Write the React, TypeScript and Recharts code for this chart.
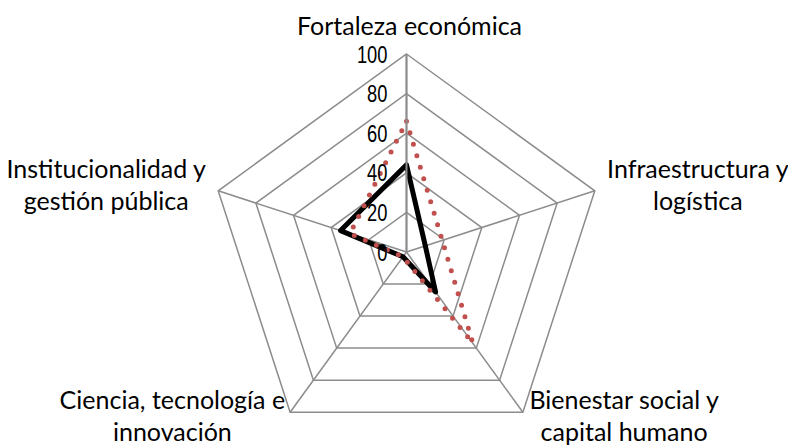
import { RadarChart, Radar, PolarGrid, PolarAngleAxis, PolarRadiusAxis } from "recharts"

const CATEGORIES = [
  "Fortaleza económica",
  "Infraestructura y\nlogística",
  "Bienestar social y\ncapital humano",
  "Ciencia, tecnología e\ninnovación",
  "Institucionalidad y\ngestión pública",
]
const REGION = [44, 10, 25, 3, 35]
const PROMEDIO = [66, 19, 57, 3, 30]

const data = CATEGORIES.map((name, i) => ({
  name,
  region: REGION[i],
  promedio: PROMEDIO[i],
}))

const W = 788
const H = 445
const CX = 406.5
const CY = 252
const R = 198
const LABEL_FONT = "Lato, 'Open Sans', sans-serif"
const LABEL_SIZE = 25
const GRID = "#8c8c8c"

let ctx: CanvasRenderingContext2D | null = null
const textWidth = (s: string) => {
  if (!ctx) ctx = document.createElement("canvas").getContext("2d")
  if (!ctx) return s.length * LABEL_SIZE * 0.5
  ctx.font = `${LABEL_SIZE}px Lato`
  return ctx.measureText(s).width
}

const AngleTick = (props: any) => {
  const { x, y, payload } = props
  const lines = String(payload.value).split("\n")
  const dx = x - CX
  const dy = y - CY
  const len = Math.hypot(dx, dy) || 1
  const ux = dx / len
  const uy = dy / len
  const vx = CX + R * ux
  const vy = CY + R * uy

  let cx = vx + 3
  let base = vy - 19
  if (Math.abs(ux) > 0.1) {
    const side = ux > 0 ? 1 : -1
    const bottom = uy > 0.5
    const gap = bottom ? (side > 0 ? 6 : 5) : 12
    const w = Math.max(...lines.map(textWidth))
    cx = vx + side * (gap + w / 2)
    base = bottom ? vy - 3 : vy - 13
  }
  return (
    <g>
      {lines.map((l, i) => (
        <text
          key={i}
          x={cx}
          y={base + i * 32}
          textAnchor="middle"
          fontFamily={LABEL_FONT}
          fontSize={LABEL_SIZE}
          fill="#000"
        >
          {l}
        </text>
      ))}
    </g>
  )
}

// narrow digits like the original axis font
const RadiusTick = (props: any) => {
  const { x, y, payload } = props
  return (
    <text
      transform={`translate(${x - 19},${y + 8.5}) scale(0.78,1)`}
      textAnchor="end"
      fontFamily="'Liberation Sans', Arial, sans-serif"
      fontSize={23.5}
      fill="#000"
    >
      {payload.value}
    </text>
  )
}

export default function App() {
  return (
    <div style={{ position: "absolute", left: 0, top: 0, width: W, height: H }}>
      <RadarChart width={W} height={H} data={data} cx={CX} cy={CY} outerRadius={R}>
        <PolarGrid gridType="polygon" stroke={GRID} strokeWidth={1.5} />
        <PolarAngleAxis dataKey="name" tick={AngleTick} tickLine={false} axisLine={false} />
        <PolarRadiusAxis
          angle={90}
          domain={[0, 100]}
          tickCount={6}
          tick={RadiusTick}
          axisLine={{ stroke: GRID, strokeWidth: 2 }}
        />
        <Radar
          dataKey="region"
          stroke="#000"
          strokeWidth={5}
          strokeLinejoin="round"
          fill="none"
          fillOpacity={0}
          dot={false}
          isAnimationActive={false}
        />
        <Radar
          dataKey="promedio"
          stroke="#c0504d"
          strokeWidth={5}
          strokeDasharray="0 12"
          strokeLinecap="round"
          fill="none"
          fillOpacity={0}
          dot={false}
          isAnimationActive={false}
        />
      </RadarChart>
    </div>
  )
}
